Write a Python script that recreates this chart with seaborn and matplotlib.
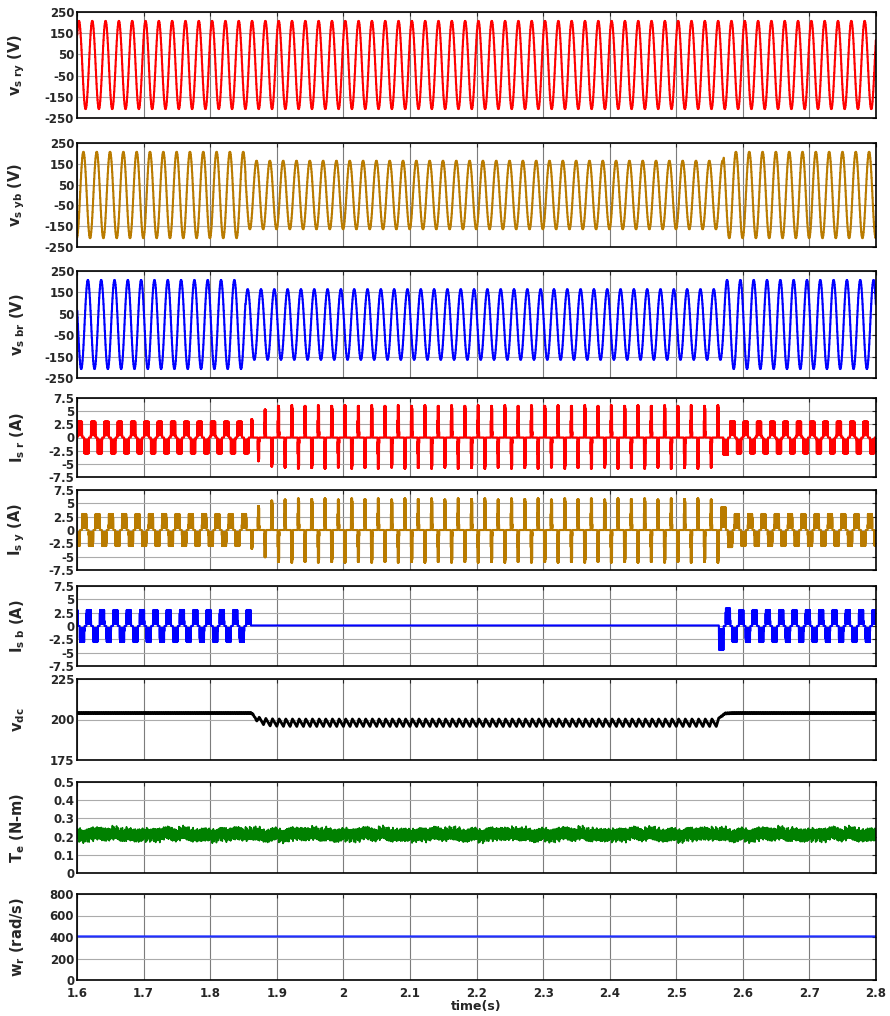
import numpy as np
import pandas as pd
import matplotlib
matplotlib.use("Agg")
import matplotlib.pyplot as plt
import seaborn as sns

# ---------------- data ----------------
T_START, T_END = 1.6, 2.8
FREQ_HZ = 50.0
X_TICKS = [1.6, 1.7, 1.8, 1.9, 2.0, 2.1, 2.2, 2.3, 2.4, 2.5, 2.6, 2.7, 2.8]

# supply line voltages
V_PEAK_TIME = [1.6026, 1.6093, 1.6160]        # first positive peak of ry, yb, br
V_AMP_NORMAL = [208.0, 208.0, 208.0]
V_AMP_FAULT = [208.0, 165.0, 165.0]
FAULT_WINDOW = [1.853, 2.571]                 # single-phasing interval
V_HOLD = 0.0005                               # sample-and-hold step of the scope

# line currents
I_NORMAL = 3.0
I_FAULT = 6.0
I_POS_CENTER = [1.6043, 1.6110, 1.6176]       # first positive pulse centre r, y, b
FAULT_PULSE_REF = 1.6026                      # fault pulses sit on v_ry peaks
NORMAL_CUT = [1.858, 2.566]
ISR_ONSET = [3.5, 4.5, 5.3, 5.5]
ISY_ONSET = [3.5, 4.5, 5.1, 5.5]
I_FAULT_VAR = [6.0, 5.8, 6.1, 5.9, 6.0, 5.7, 6.1, 5.9]
ISR_RECOVERY = [3.3, 3.1]
ISY_RECOVERY = [4.3, 3.2]
ISB_RECOVERY = [4.5, 3.3]
ISB_FAULT_LEVEL = 0.1
PULSE_RIPPLE_HZ = 2500.0
PULSE_RIPPLE_DEPTH = 0.85

# dc link voltage
VDC_NORMAL = 204.0
VDC_FAULT = 198.0
VDC_RIPPLE = [0.4, 2.3]
VDC_DROP_START, VDC_TAU_DOWN = 1.862, 0.009
VDC_RISE_START, VDC_TAU_UP = 2.563, 0.004

# torque
TE_MEAN = 0.212
TE_FREQS = [310, 470, 790, 1130, 1610, 2230, 3070, 37]
TE_AMPS = [0.010, 0.009, 0.011, 0.009, 0.009, 0.008, 0.006, 0.004]
TE_PHASES = [0.0, 1.1, 2.3, 0.7, 4.1, 3.3, 5.2, 0.4]

# speed
WR = 405.0

# ---------------- signal synthesis ----------------
dt = 2.5e-5
t = np.arange(T_START, T_END + dt / 2, dt)
HALF = 0.5 / FREQ_HZ


def voltage(i):
    th = np.floor((t - T_START) / V_HOLD) * V_HOLD + T_START
    amp = np.where((th >= FAULT_WINDOW[0]) & (th < FAULT_WINDOW[1]),
                   V_AMP_FAULT[i], V_AMP_NORMAL[i])
    return amp * np.cos(2 * np.pi * FREQ_HZ * (th - V_PEAK_TIME[i]))


def rect(c, w, edge):
    return np.clip((w / 2 - np.abs(t - c)) / edge, 0, 1)


texture = 1 - PULSE_RIPPLE_DEPTH * (0.5 + 0.5 * np.sin(2 * np.pi * PULSE_RIPPLE_HZ * t))


def current(i, onset, recovery, fault_sign):
    y = np.zeros_like(t)
    c0 = I_POS_CENTER[i] - 2 * HALF
    n_rec = 0
    for k in range(130):
        c = c0 + k * HALF
        s = 1 if k % 2 == 0 else -1
        if NORMAL_CUT[0] <= c <= NORMAL_CUT[1] or c > T_END + 0.01:
            continue
        a = I_NORMAL
        if c > NORMAL_CUT[1] and n_rec < len(recovery):
            a = recovery[n_rec]
            n_rec += 1
        y += s * a * rect(c, 0.0072, 0.0004) * texture
    if fault_sign != 0:
        n = 0
        for k in range(130):
            c = FAULT_PULSE_REF + k * HALF
            if not (NORMAL_CUT[0] + 0.002 <= c <= NORMAL_CUT[1] - 0.002):
                continue
            s = fault_sign * (1 if k % 2 == 0 else -1)
            a = onset[n] if n < len(onset) else I_FAULT_VAR[n % len(I_FAULT_VAR)]
            n += 1
            y += s * a * rect(c, 0.0027, 0.0005) * texture
    else:
        y += np.where((t > NORMAL_CUT[0] + 0.003) & (t < NORMAL_CUT[1] - 0.002),
                      ISB_FAULT_LEVEL, 0.0)
    return y


v_ry, v_yb, v_br = voltage(0), voltage(1), voltage(2)
i_r = current(0, ISR_ONSET, ISR_RECOVERY, 1)
i_y = current(1, ISY_ONSET, ISY_RECOVERY, -1)
i_b = current(2, [], ISB_RECOVERY, 0)

env = np.where(t < VDC_DROP_START, 0.0,
               1 - np.exp(-(t - VDC_DROP_START) / VDC_TAU_DOWN))
env_end = 1 - np.exp(-(VDC_RISE_START - VDC_DROP_START) / VDC_TAU_DOWN)
env = np.where(t >= VDC_RISE_START,
               env_end * np.exp(-(t - VDC_RISE_START) / VDC_TAU_UP), env)
p = np.mod((t - FAULT_PULSE_REF - 0.001) / HALF, 1.0)
a_r = 0.35
saw = np.where(p < 1 - a_r, 1 - 2 * p / (1 - a_r), -1 + 2 * (p - (1 - a_r)) / a_r)
small = np.sin(2 * np.pi * 6 * FREQ_HZ * t)
vdc = (VDC_NORMAL - (VDC_NORMAL - VDC_FAULT) * env
       + VDC_RIPPLE[1] * env * saw + VDC_RIPPLE[0] * (1 - env) * small)

te = TE_MEAN + sum(a * np.sin(2 * np.pi * f * t + ph)
                   for f, a, ph in zip(TE_FREQS, TE_AMPS, TE_PHASES))
wr = np.full_like(t, WR)

df = pd.DataFrame({"t": t, "vry": v_ry, "vyb": v_yb, "vbr": v_br,
                   "ir": i_r, "iy": i_y, "ib": i_b, "vdc": vdc,
                   "te": te, "wr": wr})

# ---------------- styling ----------------
sns.set_theme(style="white")
plt.rcParams["font.family"] = ["DejaVu Sans"]
plt.rcParams["font.weight"] = "bold"
plt.rcParams["mathtext.fontset"] = "custom"
plt.rcParams["mathtext.rm"] = "DejaVu Sans:bold"
plt.rcParams["mathtext.it"] = "DejaVu Sans:bold"
plt.rcParams["mathtext.bf"] = "DejaVu Sans:bold"
plt.rcParams["mathtext.default"] = "rm"

RED, GOLD, BLUE = "#ff0000", "#b97b00", "#0000ff"
V_TICKS = [-250, -150, -50, 50, 150, 250]
I_TICKS = [-7.5, -5, -2.5, 0, 2.5, 5, 7.5]

panels = [
    ("vry", RED, V_TICKS, r"v$_{\mathrm{s\ ry}}$ (V)", 1.5, (12, 118)),
    ("vyb", GOLD, V_TICKS, r"v$_{\mathrm{s\ yb}}$ (V)", 1.5, (143, 247)),
    ("vbr", BLUE, V_TICKS, r"v$_{\mathrm{s\ br}}$ (V)", 1.5, (271, 378)),
    ("ir", RED, I_TICKS, r"I$_{\mathrm{s\ r}}$ (A)", 1.5, (398, 477)),
    ("iy", GOLD, I_TICKS, r"I$_{\mathrm{s\ y}}$ (A)", 1.5, (490, 570)),
    ("ib", BLUE, I_TICKS, r"I$_{\mathrm{s\ b}}$ (A)", 1.5, (586, 666)),
    ("vdc", "black", [175, 200, 225], r"v$_{\mathrm{dc}}$", 2.0, (679, 760)),
    ("te", "#008000", [0, 0.1, 0.2, 0.3, 0.4, 0.5], r"T$_{\mathrm{e}}$ (N-m)", 1.2, (782, 873)),
    ("wr", "#1f2fff", [0, 200, 400, 600, 800], r"w$_{\mathrm{r}}$ (rad/s)", 1.6, (894, 980)),
]

W, H = 890, 1016
fig = plt.figure(figsize=(W / 100, H / 100), dpi=100)
LEFT, RIGHT = 77, 876

axes = []
for key, color, yt, label, lw, (top, bot) in panels:
    ax = fig.add_axes([LEFT / W, 1 - bot / H, (RIGHT - LEFT) / W, (bot - top) / H])
    sns.lineplot(data=df, x="t", y=key, ax=ax, color=color, linewidth=lw,
                 estimator=None, sort=False, errorbar=None)
    ax.set_xlim(T_START, T_END)
    ax.set_ylim(yt[0], yt[-1])
    ax.set_yticks(yt, ["%g" % v for v in yt])
    ax.set_xticks(X_TICKS, ["%g" % v for v in X_TICKS])
    ax.xaxis.grid(True, color="#7c7c7c", linewidth=0.8)
    ax.yaxis.grid(True, color="#ababab", linewidth=0.8)
    ax.tick_params(direction="in", top=True, right=True, length=3,
                   labelsize=8.5, width=0.8, pad=2)
    ax.tick_params(axis="x", pad=5)
    for lab in ax.get_yticklabels() + ax.get_xticklabels():
        lab.set_fontweight("bold")
    for sp in ax.spines.values():
        sp.set_color("black")
        sp.set_linewidth(1.2)
    ax.set_ylabel(label, fontsize=10.5, fontweight="bold")
    ax.yaxis.set_label_coords(-0.062, 0.5)
    ax.set_xlabel("")
    axes.append(ax)

for ax in axes[:-1]:
    ax.tick_params(labelbottom=False)
axes[-1].set_xlabel("time(s)", fontsize=9, fontweight="bold", labelpad=0)

fig.savefig("out.png", dpi=100)
